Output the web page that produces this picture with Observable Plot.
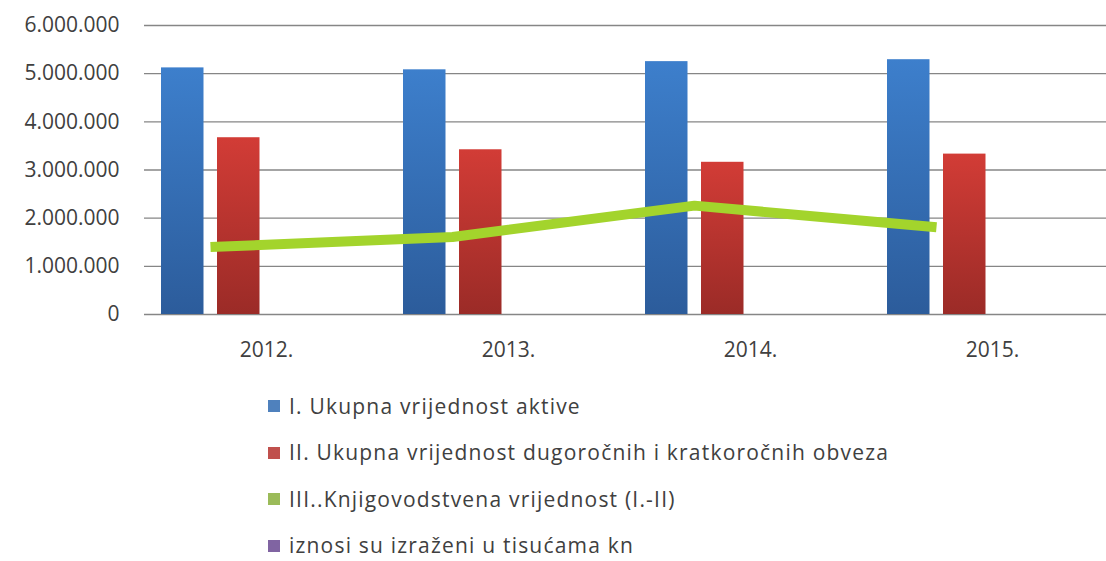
<!DOCTYPE html>
<html>
<head>
<meta charset="utf-8">
<script src="https://cdn.jsdelivr.net/npm/d3@7"></script>
<script src="https://cdn.jsdelivr.net/npm/@observablehq/plot@0.6"></script>
<style>
  html, body { margin: 0; padding: 0; background: #fff; }
  body { width: 1106px; height: 561px; overflow: hidden; font-family: "Open Sans", sans-serif; position: relative; }
  #chart svg { display: block; }
  .legend { position: absolute; top: 395.5px; left: 268px; color: #404040; font-size: 21px; letter-spacing: 1.2px; line-height: 21px; }
  .legend .row { height: 21px; display: flex; align-items: center; margin-bottom: 25.5px; }
  .legend .row:last-child { margin-bottom: 0; }
  .legend .sw { width: 12px; height: 12px; margin-right: 9px; flex: none; }
</style>
</head>
<body>
<div id="chart"></div>
<script>
// ---- data ----
const years = ["2012.", "2013.", "2014.", "2015."];
const aktiva = [5120000, 5080000, 5250000, 5290000];          // I.
const obveze = [3670000, 3420000, 3160000, 3330000];          // II.
const knjigovodstvena = [1400000, 1610000, 2260000, 1810000]; // III.
const yTicks = [0, 1000000, 2000000, 3000000, 4000000, 5000000, 6000000];
const seriesNames = [
  "I. Ukupna vrijednost aktive",
  "II. Ukupna vrijednost dugoročnih i kratkoročnih obveza",
  "III..Knjigovodstvena vrijednost (I.-II)",
  "iznosi su izraženi u tisućama kn"
];
const seriesColors = ["#4f81bd", "#c0504d", "#9bbb59", "#8064a2"];

// ---- tables ----
const rowsA = years.map((year, i) => ({year, value: aktiva[i]}));
const rowsB = years.map((year, i) => ({year, value: obveze[i]}));
const rowsC = years.map((year, i) => ({year, value: knjigovodstvena[i]}));

const hr = d3.formatLocale({decimal: ",", thousands: ".", grouping: [3], currency: ["", ""]});
const fmt = hr.format(",d");

const chart = Plot.plot({
  width: 1106,
  height: 364,
  marginLeft: 144,
  marginRight: 0,
  marginTop: 25,
  marginBottom: 50,
  style: {fontFamily: "Open Sans, sans-serif", color: "#404040", background: "#fff"},
  x: {domain: years, range: [144, 1114], padding: 0, label: null, axis: null},
  y: {domain: [0, 6000000], label: null, axis: null},
  marks: [
    Plot.ruleY(yTicks, {stroke: "#868686", strokeWidth: 1.4}),
    Plot.barY(rowsA, {x: "year", y: "value", fill: "url(#gBlue)", insetLeft: 16, insetRight: 183.5}),
    Plot.barY(rowsB, {x: "year", y: "value", fill: "url(#gRed)", insetLeft: 72, insetRight: 127.5}),
    Plot.line(rowsC, {x: "year", y: "value", dx: -56, stroke: "#a3d42c", strokeWidth: 10, strokeLinecap: "butt", strokeLinejoin: "round"}),
    Plot.axisY(yTicks, {tickSize: 0, tickPadding: 25, tickFormat: fmt, fontSize: 21, fill: "#404040", letterSpacing: 1.2}),
    Plot.axisX(years, {tickSize: 0, tickPadding: 27.5, fontSize: 21, fill: "#404040", letterSpacing: 1.2})
  ]
});

chart.insertAdjacentHTML("afterbegin", `
  <defs>
    <linearGradient id="gBlue" x1="0" y1="0" x2="0" y2="1">
      <stop offset="0" stop-color="#3d7fcc"/>
      <stop offset="1" stop-color="#2c5c9b"/>
    </linearGradient>
    <linearGradient id="gRed" x1="0" y1="0" x2="0" y2="1">
      <stop offset="0" stop-color="#d23c36"/>
      <stop offset="1" stop-color="#9b2b27"/>
    </linearGradient>
  </defs>`);

document.getElementById("chart").append(chart);

const legend = d3.select("body").append("div").attr("class", "legend");
seriesNames.forEach((name, i) => {
  const row = legend.append("div").attr("class", "row");
  row.append("span").attr("class", "sw").style("background", seriesColors[i]);
  row.append("span").text(name);
});
</script>
</body>
</html>
